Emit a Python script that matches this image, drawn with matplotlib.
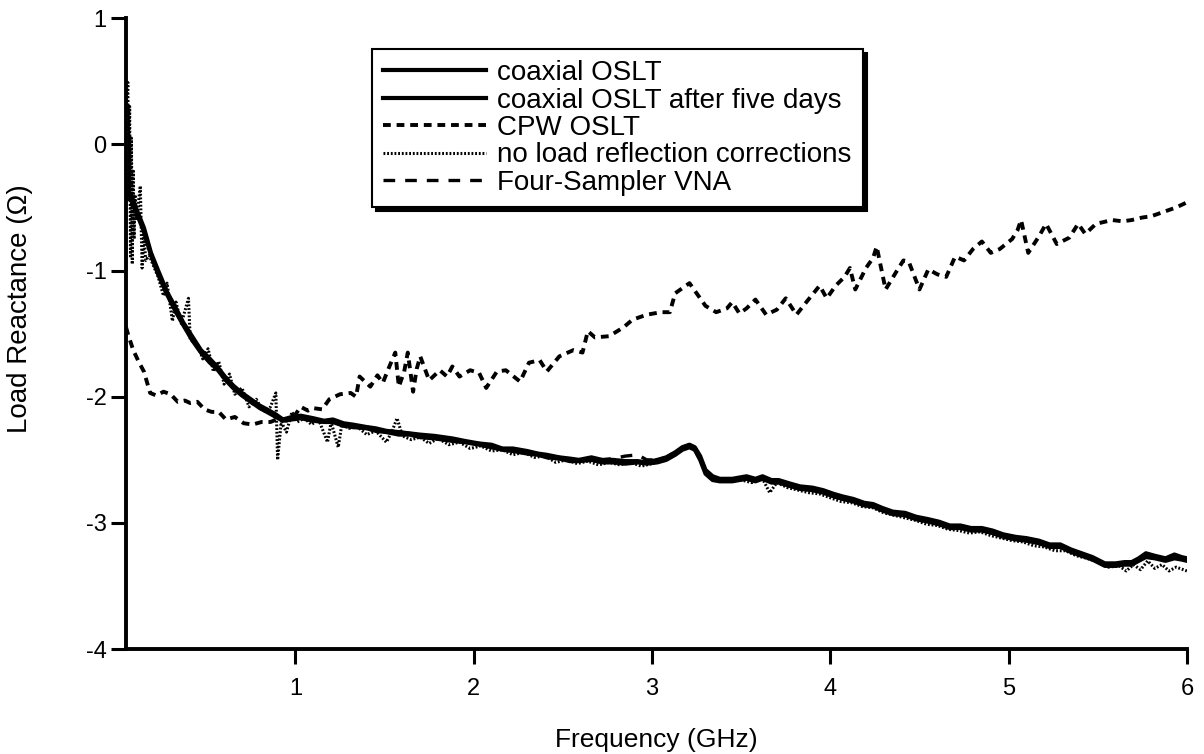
import matplotlib
matplotlib.use("Agg")
import matplotlib.pyplot as plt

# frequency grid (GHz) for the two coaxial OSLT traces and the VNA trace
freq_coax = [0.05, 0.08, 0.11, 0.15, 0.19, 0.23, 0.28, 0.33, 0.37, 0.42,
             0.47, 0.52, 0.56, 0.61, 0.65, 0.70, 0.75, 0.80, 0.84, 0.89,
             0.93, 0.98, 1.03, 1.10, 1.16, 1.21, 1.27, 1.32, 1.40, 1.45,
             1.51, 1.58, 1.64, 1.70, 1.78, 1.88, 1.95, 2.03, 2.10, 2.16,
             2.22, 2.30, 2.36, 2.41, 2.48, 2.54, 2.59, 2.66, 2.72, 2.78,
             2.85, 2.92, 2.97, 3.03, 3.08, 3.13, 3.17, 3.21, 3.24, 3.27,
             3.30, 3.34, 3.38, 3.45, 3.53, 3.58, 3.62, 3.67, 3.71, 3.78,
             3.83, 3.90, 3.96, 4.02, 4.07, 4.13, 4.19, 4.24, 4.29, 4.35,
             4.42, 4.48, 4.55, 4.61, 4.67, 4.73, 4.79, 4.85, 4.91, 4.97,
             5.04, 5.10, 5.17, 5.23, 5.29, 5.35, 5.41, 5.47, 5.54, 5.60,
             5.65, 5.69, 5.73, 5.77, 5.82, 5.88, 5.93, 5.97, 6.00]

coax_oslt = [-0.36, -0.41, -0.52, -0.66, -0.86, -1.00, -1.17, -1.30, -1.41, -1.52,
             -1.63, -1.70, -1.76, -1.85, -1.91, -1.97, -2.02, -2.07, -2.10, -2.14,
             -2.18, -2.16, -2.15, -2.17, -2.19, -2.18, -2.21, -2.22, -2.24, -2.25,
             -2.27, -2.28, -2.29, -2.30, -2.31, -2.33, -2.35, -2.37, -2.38, -2.41,
             -2.41, -2.43, -2.45, -2.46, -2.48, -2.49, -2.50, -2.48, -2.50, -2.50,
             -2.51, -2.51, -2.52, -2.50, -2.48, -2.44, -2.40, -2.38, -2.40, -2.47,
             -2.58, -2.63, -2.65, -2.65, -2.63, -2.65, -2.63, -2.66, -2.66, -2.69,
             -2.71, -2.72, -2.74, -2.77, -2.79, -2.81, -2.84, -2.85, -2.88, -2.91,
             -2.92, -2.95, -2.97, -2.99, -3.02, -3.02, -3.04, -3.04, -3.06, -3.09,
             -3.11, -3.12, -3.14, -3.17, -3.17, -3.21, -3.24, -3.27, -3.32, -3.32,
             -3.31, -3.31, -3.28, -3.24, -3.26, -3.28, -3.25, -3.27, -3.28]

coax_five_days = [-0.38, -0.44, -0.55, -0.69, -0.88, -1.03, -1.19, -1.33, -1.43, -1.55,
                  -1.65, -1.73, -1.78, -1.87, -1.93, -1.99, -2.04, -2.09, -2.12, -2.16,
                  -2.19, -2.18, -2.17, -2.19, -2.20, -2.20, -2.23, -2.24, -2.25, -2.27,
                  -2.28, -2.30, -2.30, -2.32, -2.33, -2.35, -2.36, -2.38, -2.40, -2.42,
                  -2.43, -2.45, -2.46, -2.48, -2.49, -2.51, -2.51, -2.50, -2.52, -2.52,
                  -2.53, -2.52, -2.53, -2.52, -2.50, -2.46, -2.42, -2.40, -2.42, -2.50,
                  -2.61, -2.66, -2.67, -2.67, -2.65, -2.67, -2.65, -2.68, -2.68, -2.71,
                  -2.73, -2.74, -2.76, -2.79, -2.81, -2.83, -2.86, -2.87, -2.90, -2.93,
                  -2.94, -2.97, -2.99, -3.01, -3.04, -3.04, -3.06, -3.06, -3.08, -3.11,
                  -3.13, -3.14, -3.16, -3.19, -3.19, -3.23, -3.26, -3.29, -3.34, -3.34,
                  -3.33, -3.33, -3.30, -3.27, -3.28, -3.30, -3.28, -3.29, -3.30]

four_sampler = [-0.37, -0.42, -0.53, -0.67, -0.87, -1.01, -1.18, -1.31, -1.42, -1.53,
                -1.64, -1.71, -1.77, -1.86, -1.92, -1.98, -2.03, -2.08, -2.11, -2.15,
                -2.18, -2.17, -2.16, -2.18, -2.19, -2.19, -2.22, -2.23, -2.24, -2.26,
                -2.27, -2.29, -2.29, -2.31, -2.32, -2.34, -2.36, -2.37, -2.39, -2.41,
                -2.42, -2.44, -2.45, -2.47, -2.48, -2.50, -2.50, -2.49, -2.50, -2.49,
                -2.47, -2.46, -2.50, -2.50, -2.48, -2.44, -2.40, -2.38, -2.41, -2.48,
                -2.59, -2.64, -2.66, -2.66, -2.64, -2.66, -2.64, -2.67, -2.67, -2.70,
                -2.72, -2.73, -2.75, -2.78, -2.80, -2.82, -2.85, -2.86, -2.89, -2.92,
                -2.93, -2.96, -2.98, -3.00, -3.03, -3.03, -3.05, -3.05, -3.07, -3.10,
                -3.12, -3.13, -3.15, -3.18, -3.18, -3.22, -3.25, -3.28, -3.33, -3.33,
                -3.32, -3.32, -3.29, -3.25, -3.27, -3.29, -3.26, -3.28, -3.29]

# CPW OSLT trace
freq_cpw = [0.05, 0.06, 0.09, 0.12, 0.15, 0.185, 0.22, 0.26, 0.30, 0.34,
            0.38, 0.41, 0.45, 0.49, 0.53, 0.57, 0.61, 0.66, 0.71, 0.76,
            0.81, 0.86, 0.91, 0.95, 1.00, 1.03, 1.07, 1.10, 1.15, 1.19,
            1.25, 1.31, 1.34, 1.36, 1.42, 1.46, 1.49, 1.53, 1.56, 1.58,
            1.61, 1.63, 1.66, 1.68, 1.70, 1.75, 1.81, 1.85, 1.88, 1.92,
            1.98, 2.03, 2.07, 2.13, 2.18, 2.26, 2.31, 2.37, 2.41, 2.48,
            2.56, 2.61, 2.64, 2.68, 2.76, 2.84, 2.89, 2.97, 3.05, 3.10,
            3.13, 3.17, 3.21, 3.25, 3.30, 3.36, 3.42, 3.45, 3.49, 3.53,
            3.58, 3.64, 3.70, 3.75, 3.81, 3.86, 3.94, 3.98, 4.03, 4.08,
            4.11, 4.14, 4.20, 4.24, 4.26, 4.31, 4.37, 4.41, 4.44, 4.50,
            4.55, 4.60, 4.65, 4.70, 4.75, 4.80, 4.85, 4.90, 4.95, 5.02,
            5.05, 5.07, 5.11, 5.17, 5.21, 5.27, 5.34, 5.39, 5.43, 5.49,
            5.58, 5.64, 5.69, 5.75, 5.80, 5.88, 5.94, 6.00]

cpw_oslt = [-1.45, -1.50, -1.63, -1.72, -1.80, -1.97, -1.99, -1.96, -1.98, -2.04,
            -2.03, -2.05, -2.04, -2.10, -2.12, -2.12, -2.18, -2.16, -2.21, -2.22,
            -2.20, -2.20, -2.17, -2.19, -2.14, -2.08, -2.11, -2.09, -2.10, -2.02,
            -1.98, -1.97, -2.00, -1.84, -1.92, -1.83, -1.89, -1.75, -1.65, -1.92,
            -1.80, -1.65, -1.96, -1.78, -1.68, -1.87, -1.79, -1.84, -1.76, -1.84,
            -1.79, -1.81, -1.93, -1.80, -1.79, -1.88, -1.73, -1.71, -1.80, -1.68,
            -1.63, -1.65, -1.48, -1.53, -1.52, -1.45, -1.39, -1.35, -1.33, -1.33,
            -1.18, -1.14, -1.10, -1.18, -1.28, -1.33, -1.30, -1.25, -1.34, -1.30,
            -1.23, -1.35, -1.31, -1.22, -1.35, -1.26, -1.12, -1.22, -1.12, -1.05,
            -0.98, -1.15, -0.98, -0.90, -0.81, -1.15, -1.01, -0.92, -0.93, -1.15,
            -0.99, -1.03, -1.05, -0.89, -0.92, -0.83, -0.77, -0.86, -0.83, -0.75,
            -0.68, -0.60, -0.86, -0.73, -0.63, -0.79, -0.74, -0.63, -0.71, -0.63,
            -0.60, -0.61, -0.60, -0.58, -0.57, -0.53, -0.50, -0.46]

# trace with no load reflection corrections
freq_noload = [0.05, 0.055, 0.06, 0.065, 0.07, 0.075, 0.08, 0.085, 0.09, 0.095,
               0.10, 0.11, 0.12, 0.13, 0.14, 0.15, 0.16, 0.18, 0.20, 0.23,
               0.26, 0.28, 0.31, 0.33, 0.36, 0.40, 0.41, 0.45, 0.48, 0.51,
               0.54, 0.57, 0.60, 0.63, 0.66, 0.70, 0.74, 0.78, 0.82, 0.86,
               0.89, 0.90, 0.92, 0.95, 0.98, 1.01, 1.05, 1.09, 1.13, 1.18,
               1.20, 1.24, 1.26, 1.30, 1.35, 1.40, 1.45, 1.51, 1.54, 1.57,
               1.60, 1.65, 1.70, 1.75, 1.80, 1.86, 1.92, 1.98, 2.04, 2.10,
               2.16, 2.22, 2.28, 2.34, 2.40, 2.46, 2.52, 2.58, 2.64, 2.70,
               2.76, 2.82, 2.88, 2.94, 3.00, 3.06, 3.12, 3.18, 3.22, 3.26,
               3.30, 3.35, 3.42, 3.50, 3.56, 3.62, 3.66, 3.70, 3.76, 3.82,
               3.88, 3.94, 4.00, 4.06, 4.12, 4.18, 4.24, 4.30, 4.36, 4.42,
               4.48, 4.54, 4.60, 4.66, 4.72, 4.78, 4.84, 4.90, 4.96, 5.02,
               5.08, 5.14, 5.20, 5.26, 5.32, 5.38, 5.44, 5.50, 5.56, 5.62,
               5.66, 5.70, 5.74, 5.78, 5.82, 5.86, 5.90, 5.94, 6.00]

no_load = [-0.30, 0.35, 0.49, -0.45, 0.30, -0.90, 0.05, -0.95, -0.20, -0.75,
           -0.40, -0.60, -0.45, -0.33, -0.98, -0.70, -0.92, -0.88, -0.95, -1.05,
           -1.20, -1.10, -1.40, -1.25, -1.42, -1.22, -1.55, -1.58, -1.70, -1.62,
           -1.80, -1.72, -1.90, -1.82, -1.98, -1.93, -2.08, -2.02, -2.12, -2.08,
           -1.97, -2.50, -2.20, -2.28, -2.12, -2.20, -2.17, -2.22, -2.18, -2.36,
           -2.20, -2.40, -2.22, -2.25, -2.24, -2.30, -2.27, -2.36, -2.28, -2.17,
           -2.31, -2.34, -2.32, -2.37, -2.33, -2.38, -2.36, -2.41, -2.39, -2.43,
           -2.42, -2.46, -2.44, -2.48, -2.47, -2.52, -2.50, -2.53, -2.51, -2.54,
           -2.52, -2.54, -2.52, -2.55, -2.53, -2.50, -2.46, -2.41, -2.39, -2.46,
           -2.60, -2.66, -2.67, -2.66, -2.68, -2.65, -2.76, -2.68, -2.72, -2.74,
           -2.76, -2.77, -2.80, -2.83, -2.84, -2.87, -2.88, -2.92, -2.94, -2.96,
           -2.98, -3.01, -3.02, -3.05, -3.06, -3.08, -3.07, -3.10, -3.12, -3.14,
           -3.15, -3.18, -3.19, -3.22, -3.22, -3.26, -3.28, -3.31, -3.35, -3.34,
           -3.38, -3.33, -3.37, -3.30, -3.36, -3.33, -3.38, -3.35, -3.38]

y_ticks = [1, 0, -1, -2, -3, -4]
y_tick_labels = ["1", "0", "-1", "-2", "-3", "-4"]
x_ticks = [1, 2, 3, 4, 5, 6]
x_tick_labels = ["1", "2", "3", "4", "5", "6"]


def main() -> None:
    plt.rcParams["font.family"] = ["Liberation Sans", "DejaVu Sans"]

    fig = plt.figure(figsize=(12.04, 7.54), dpi=100)
    ax = fig.add_axes([0.1047, 0.139, 0.8811, 0.837])

    ax.plot(freq_coax, coax_oslt, color="black", lw=3.0, solid_joinstyle="round",
            label="coaxial OSLT")
    ax.plot(freq_coax, coax_five_days, color="black", lw=3.0, solid_joinstyle="round",
            label="coaxial OSLT after five days")
    ax.plot(freq_cpw, cpw_oslt, color="black", lw=2.8, linestyle=(0, (2.0, 1.5)),
            label="CPW OSLT")
    ax.plot(freq_noload, no_load, color="black", lw=2.2, linestyle=(0, (0.6, 0.6)),
            label="no load reflection corrections")
    ax.plot(freq_coax, four_sampler, color="black", lw=2.4, linestyle=(0, (3.5, 3.0)),
            label="Four-Sampler VNA")

    ax.set_xlim(0.05, 6.0)
    ax.set_ylim(-4, 1)
    ax.set_xticks(x_ticks)
    ax.set_xticklabels(x_tick_labels)
    ax.set_yticks(y_ticks)
    ax.set_yticklabels(y_tick_labels)

    for side in ["top", "right"]:
        ax.spines[side].set_visible(False)
    for side in ["left", "bottom"]:
        ax.spines[side].set_linewidth(2.8)
    ax.tick_params(axis="both", direction="out", length=11, width=2.2,
                   labelsize=17, pad=3)
    ax.tick_params(axis="x", pad=10)

    ax.set_xlabel("Frequency (GHz)", fontsize=19, labelpad=20)
    ax.set_ylabel("Load Reactance (\u03a9)", fontsize=20)
    ax.yaxis.set_label_coords(-0.088, 0.54)

    leg = ax.legend(loc="upper left", bbox_to_anchor=(0.232, 0.951), fontsize=20,
                    handlelength=3.7, handletextpad=0.4, labelspacing=0.05,
                    borderpad=0.4, fancybox=False, framealpha=1,
                    shadow={"color": "black", "alpha": 1.0, "ox": 3, "oy": -3},
                    borderaxespad=0)
    leg.get_frame().set_edgecolor("black")
    leg.get_frame().set_linewidth(1.5)

    fig.savefig("out.png", dpi=100)
    plt.close(fig)


if __name__ == "__main__":
    main()
